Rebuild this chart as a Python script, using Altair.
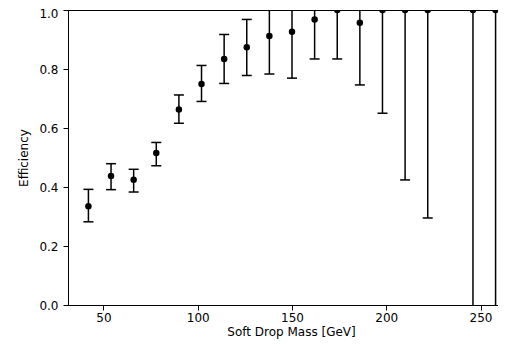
import altair as alt
import pandas as pd

# Values
mass = [42, 54, 66, 78, 90, 102, 114, 126, 138, 150, 162, 174, 186, 198, 210, 222, 246, 258]
eff = [0.335, 0.437, 0.425, 0.515, 0.663, 0.749, 0.834, 0.874, 0.912, 0.926, 0.968, 1.0, 0.957, 1.0, 1.0, 1.0, 1.0, 1.0]
err_lo = [0.282, 0.391, 0.383, 0.472, 0.616, 0.690, 0.751, 0.778, 0.783, 0.769, 0.834, 0.834, 0.746, 0.650, 0.424, 0.295, -0.05, -0.05]
err_hi = [0.392, 0.479, 0.460, 0.551, 0.712, 0.812, 0.917, 0.968, 1.05, 1.05, 1.05, 1.0, 1.05, 1.0, 1.0, 1.0, 1.0, 1.0]
x_ticks = [50, 100, 150, 200, 250]
y_ticks = [0.0, 0.2, 0.4, 0.6, 0.8, 1.0]
title_text = ["_SoftDropMass40_TTAK8ParticleNetBBop35, Cuts on num and"]

df = pd.DataFrame({"mass": mass, "eff": eff, "lo": err_lo, "hi": err_hi})

xs = alt.Scale(domain=[31.17, 267.77], nice=False, zero=False)
ys = alt.Scale(domain=[0, 1], nice=False, zero=False)

xax = alt.Axis(values=x_ticks, title="Soft Drop Mass [GeV]", grid=False,
               tickSize=5, labelPadding=2, titlePadding=3)
yax = alt.Axis(values=y_ticks, format=".1f", title="Efficiency", grid=False,
               tickSize=5, labelPadding=5, titlePadding=8,
               labelOffset={"condition": {"test": "datum.value >= 1", "value": 3}, "value": 0})

base = alt.Chart(df)

bars = base.mark_rule(color="black", strokeWidth=1.5, clip=True).encode(
    x=alt.X("mass:Q", scale=xs, axis=xax),
    y=alt.Y("lo:Q", scale=ys, axis=yax),
    y2="hi:Q",
)
cap_lo = base.mark_tick(color="black", thickness=1.5, size=10, orient="horizontal",
                        clip=True, opacity=1).encode(x="mass:Q", y="lo:Q")
cap_hi = base.mark_tick(color="black", thickness=1.5, size=10, orient="horizontal",
                        clip=True, opacity=1).encode(x="mass:Q", y="hi:Q")
pts = base.mark_circle(color="black", size=42, opacity=1, clip=True).encode(
    x="mass:Q", y="eff:Q"
)
title = alt.Chart(pd.DataFrame({"t": title_text})).mark_text(
    align="left", baseline="alphabetic", fontSize=13, font="DejaVu Sans", color="black"
).encode(x=alt.value(-64), y=alt.value(-5), text="t:N")

chart = (
    alt.layer(bars, cap_lo, cap_hi, pts, title)
    .properties(
        width=446,
        height=295,
        autosize=alt.AutoSizeParams(type="none"),
        padding={"left": 60, "top": 2, "right": -16, "bottom": 35},
    )
    .configure_view(stroke="black", strokeWidth=1)
    .configure_axis(
        domainColor="black",
        tickColor="black",
        labelColor="black",
        titleColor="black",
        labelFont="DejaVu Sans",
        titleFont="DejaVu Sans",
        labelFontSize=12,
        titleFontSize=12,
        titleFontWeight="normal",
        domainWidth=1,
        tickWidth=1,
    )
)

chart.save("out.html", embed_options={"renderer": "svg", "actions": False})
